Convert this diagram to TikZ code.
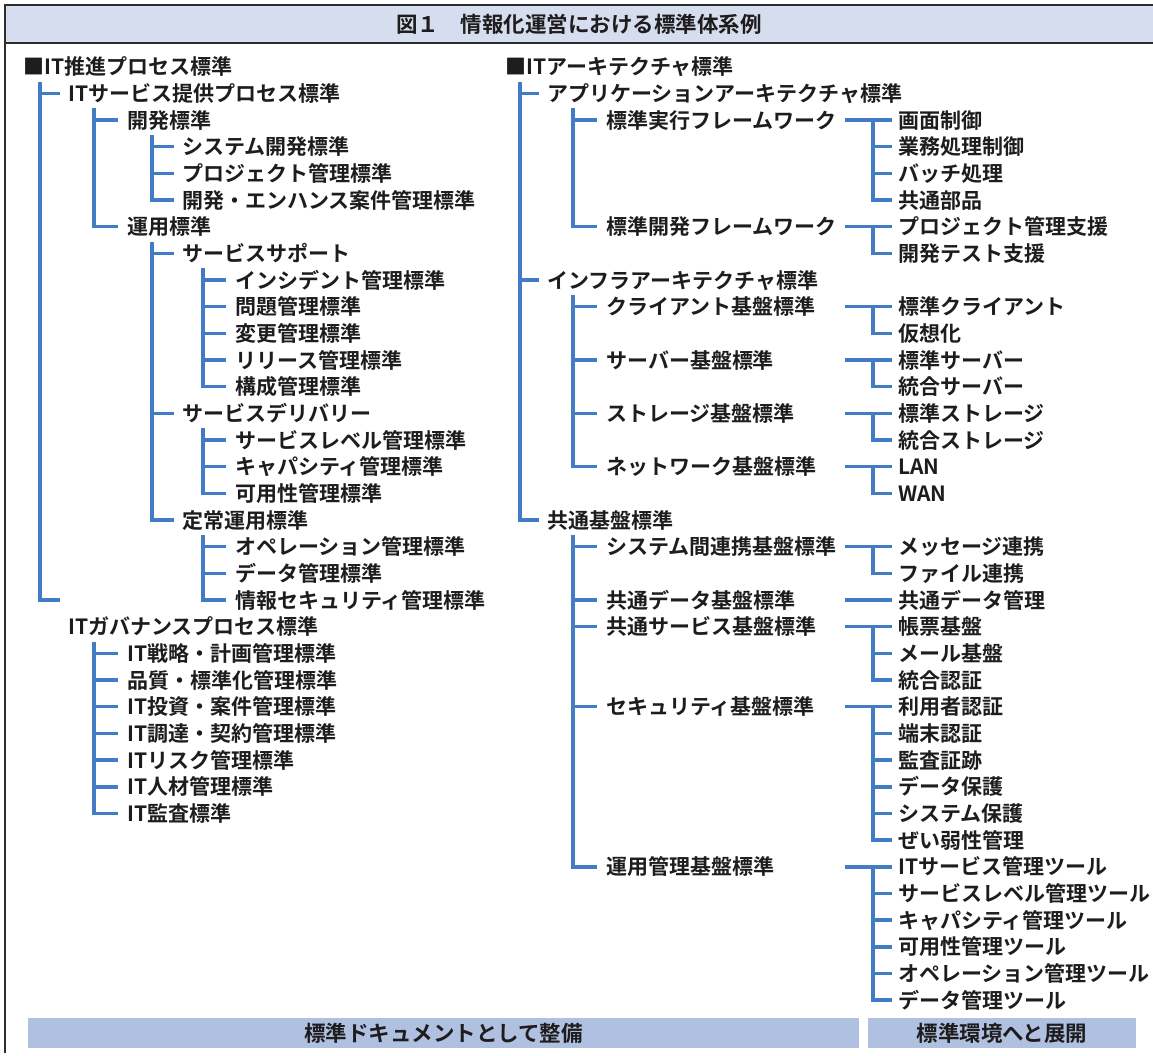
\documentclass[tikz,border=0pt]{standalone}
\usepackage{fontspec}
\setmainfont{Noto Sans CJK JP}[BoldFont={* Bold}]
\usetikzlibrary{calc}
\definecolor{treeblue}{RGB}{66,124,196}
\definecolor{txt}{RGB}{30,28,28}
\definecolor{titlefill}{RGB}{213,221,238}
\definecolor{barfill}{RGB}{175,192,225}
\definecolor{framec}{RGB}{45,45,45}
\newcommand\R[1]{{66.7+26.67*#1}}
\newcommand\branch[5]{%
  \draw[tln] ($(#1 |- #2.west)+(0,15)$) |- ([xshift=-#5]#4.west);
  \foreach \nd in {#3}{\draw[tln] (#1 |- \nd.west) -- ([xshift=-#5]\nd.west);}}
\newcommand\legA[3]{%
  \draw[tln] (Y0 |- r#1.west) -- ([xshift=-6pt]q#2.west);
  \draw[tln] (Y3 |- r#1.west) |- ([xshift=-6pt]q#3.west);}
\newcommand\legB[1]{\foreach \nd in {#1}{\draw[tln] (Y3 |- q\nd.west) -- ([xshift=-6pt]q\nd.west);}}
\begin{document}
\begin{tikzpicture}[x=1pt,y=-1pt,
  lbl/.style={anchor=west,inner sep=0pt,text=txt,font=\fontsize{21pt}{25pt}\selectfont\bfseries,text height=18.5pt,text depth=2.5pt},
  tln/.style={draw=treeblue,line width=3.4pt},
  bar/.style={fill=barfill,inner sep=0pt,text=txt,font=\fontsize{21.5pt}{25pt}\selectfont\bfseries,minimum height=30pt}]
\useasboundingbox (0,0) rectangle (1153,1055);
% frame and title
\fill[titlefill] (5,5) rectangle (1153,43);
\draw[framec,line width=1.6pt] (1153,5) -- (5,5) -- (5,1053);
\draw[framec,line width=1.6pt] (5,43) -- (1153,43);
\node[text=txt,font=\fontsize{21.5pt}{25pt}\selectfont\bfseries,inner sep=0pt] (title) at (579,24) {図１　情報化運営における標準体系例};
% coordinates of tree verticals
\coordinate (X1) at (40,0);
\coordinate (X2) at (94,0);
\coordinate (X3) at (152,0);
\coordinate (X4) at (203,0);
\coordinate (Y1) at (520,0);
\coordinate (Y2) at (573,0);
\coordinate (Y0) at (845,0);
\coordinate (Y3) at (873,0);
% left column
\node[lbl] (l0) at (23,\R{0}) {■IT推進プロセス標準};
\node[lbl] (l1) at (68,\R{1}) {ITサービス提供プロセス標準};
\node[lbl] (l2) at (127,\R{2}) {開発標準};
\node[lbl] (l3) at (182,\R{3}) {システム開発標準};
\node[lbl] (l4) at (182,\R{4}) {プロジェクト管理標準};
\node[lbl] (l5) at (182,\R{5}) {開発・エンハンス案件管理標準};
\node[lbl] (l6) at (127,\R{6}) {運用標準};
\node[lbl] (l7) at (182,\R{7}) {サービスサポート};
\node[lbl] (l8) at (235,\R{8}) {インシデント管理標準};
\node[lbl] (l9) at (235,\R{9}) {問題管理標準};
\node[lbl] (l10) at (235,\R{10}) {変更管理標準};
\node[lbl] (l11) at (235,\R{11}) {リリース管理標準};
\node[lbl] (l12) at (235,\R{12}) {構成管理標準};
\node[lbl] (l13) at (182,\R{13}) {サービスデリバリー};
\node[lbl] (l14) at (235,\R{14}) {サービスレベル管理標準};
\node[lbl] (l15) at (235,\R{15}) {キャパシティ管理標準};
\node[lbl] (l16) at (235,\R{16}) {可用性管理標準};
\node[lbl] (l17) at (182,\R{17}) {定常運用標準};
\node[lbl] (l18) at (235,\R{18}) {オペレーション管理標準};
\node[lbl] (l19) at (235,\R{19}) {データ管理標準};
\node[lbl] (l20) at (235,\R{20}) {情報セキュリティ管理標準};
\node[lbl] (l21) at (68,\R{21}) {ITガバナンスプロセス標準};
\node[lbl] (l22) at (127,\R{22}) {IT戦略・計画管理標準};
\node[lbl] (l23) at (127,\R{23}) {品質・標準化管理標準};
\node[lbl] (l24) at (127,\R{24}) {IT投資・案件管理標準};
\node[lbl] (l25) at (127,\R{25}) {IT調達・契約管理標準};
\node[lbl] (l26) at (127,\R{26}) {ITリスク管理標準};
\node[lbl] (l27) at (127,\R{27}) {IT人材管理標準};
\node[lbl] (l28) at (127,\R{28}) {IT監査標準};
\coordinate (e1) at (60,\R{20});
% left tree lines
\draw[tln] ($(X1 |- l0.west)+(0,15)$) |- (e1);
\draw[tln] (X1 |- l1.west) -- ([xshift=-8pt]l1.west);
\branch{X2}{l1}{l2}{l6}{9pt}
\branch{X3}{l2}{l3,l4}{l5}{8pt}
\branch{X3}{l6}{l7,l13}{l17}{8pt}
\branch{X4}{l7}{l8,l9,l10,l11}{l12}{9pt}
\branch{X4}{l13}{l14,l15}{l16}{9pt}
\branch{X4}{l17}{l18,l19}{l20}{9pt}
\branch{X2}{l21}{l22,l23,l24,l25,l26,l27}{l28}{9pt}
% right column, primary
\node[lbl] (r0) at (505,\R{0}) {■ITアーキテクチャ標準};
\node[lbl] (r1) at (547,\R{1}) {アプリケーションアーキテクチャ標準};
\node[lbl] (r2) at (606,\R{2}) {標準実行フレームワーク};
\node[lbl] (r6) at (606,\R{6}) {標準開発フレームワーク};
\node[lbl] (r8) at (547,\R{8}) {インフラアーキテクチャ標準};
\node[lbl] (r9) at (606,\R{9}) {クライアント基盤標準};
\node[lbl] (r11) at (606,\R{11}) {サーバー基盤標準};
\node[lbl] (r13) at (606,\R{13}) {ストレージ基盤標準};
\node[lbl] (r15) at (606,\R{15}) {ネットワーク基盤標準};
\node[lbl] (r17) at (547,\R{17}) {共通基盤標準};
\node[lbl] (r18) at (606,\R{18}) {システム間連携基盤標準};
\node[lbl] (r20) at (606,\R{20}) {共通データ基盤標準};
\node[lbl] (r21) at (606,\R{21}) {共通サービス基盤標準};
\node[lbl] (r24) at (606,\R{24}) {セキュリティ基盤標準};
\node[lbl] (r30) at (606,\R{30}) {運用管理基盤標準};
% right column, leaves
\node[lbl] (q2) at (898,\R{2}) {画面制御};
\node[lbl] (q3) at (898,\R{3}) {業務処理制御};
\node[lbl] (q4) at (898,\R{4}) {バッチ処理};
\node[lbl] (q5) at (898,\R{5}) {共通部品};
\node[lbl] (q6) at (898,\R{6}) {プロジェクト管理支援};
\node[lbl] (q7) at (898,\R{7}) {開発テスト支援};
\node[lbl] (q9) at (898,\R{9}) {標準クライアント};
\node[lbl] (q10) at (898,\R{10}) {仮想化};
\node[lbl] (q11) at (898,\R{11}) {標準サーバー};
\node[lbl] (q12) at (898,\R{12}) {統合サーバー};
\node[lbl] (q13) at (898,\R{13}) {標準ストレージ};
\node[lbl] (q14) at (898,\R{14}) {統合ストレージ};
\node[lbl] (q15) at (898,\R{15}) {LAN};
\node[lbl] (q16) at (898,\R{16}) {WAN};
\node[lbl] (q18) at (898,\R{18}) {メッセージ連携};
\node[lbl] (q19) at (898,\R{19}) {ファイル連携};
\node[lbl] (q20) at (898,\R{20}) {共通データ管理};
\node[lbl] (q21) at (898,\R{21}) {帳票基盤};
\node[lbl] (q22) at (898,\R{22}) {メール基盤};
\node[lbl] (q23) at (898,\R{23}) {統合認証};
\node[lbl] (q24) at (898,\R{24}) {利用者認証};
\node[lbl] (q25) at (898,\R{25}) {端末認証};
\node[lbl] (q26) at (898,\R{26}) {監査証跡};
\node[lbl] (q27) at (898,\R{27}) {データ保護};
\node[lbl] (q28) at (898,\R{28}) {システム保護};
\node[lbl] (q29) at (898,\R{29}) {ぜい弱性管理};
\node[lbl] (q30) at (898,\R{30}) {ITサービス管理ツール};
\node[lbl] (q31) at (898,\R{31}) {サービスレベル管理ツール};
\node[lbl] (q32) at (898,\R{32}) {キャパシティ管理ツール};
\node[lbl] (q33) at (898,\R{33}) {可用性管理ツール};
\node[lbl] (q34) at (898,\R{34}) {オペレーション管理ツール};
\node[lbl] (q35) at (898,\R{35}) {データ管理ツール};
% right tree lines
\branch{Y1}{r0}{r1,r8}{r17}{8pt}
\branch{Y2}{r1}{r2}{r6}{9pt}
\branch{Y2}{r8}{r9,r11,r13}{r15}{9pt}
\branch{Y2}{r17}{r18,r20,r21,r24}{r30}{9pt}
\legA{2}{2}{5}\legB{3,4}
\legA{6}{6}{7}
\legA{9}{9}{10}
\legA{11}{11}{12}
\legA{13}{13}{14}
\legA{15}{15}{16}
\legA{18}{18}{19}
\draw[tln] (Y0 |- r20.west) -- ([xshift=-6pt]q20.west);
\legA{21}{21}{23}\legB{22}
\legA{24}{24}{29}\legB{25,26,27,28}
\legA{30}{30}{35}\legB{31,32,33,34}
% bottom bars
\node[bar,minimum width=831pt] (b1) at (443.5,1033) {標準ドキュメントとして整備};
\node[bar,minimum width=268pt] (b2) at (1002,1033) {標準環境へと展開};
\end{tikzpicture}
\end{document}
